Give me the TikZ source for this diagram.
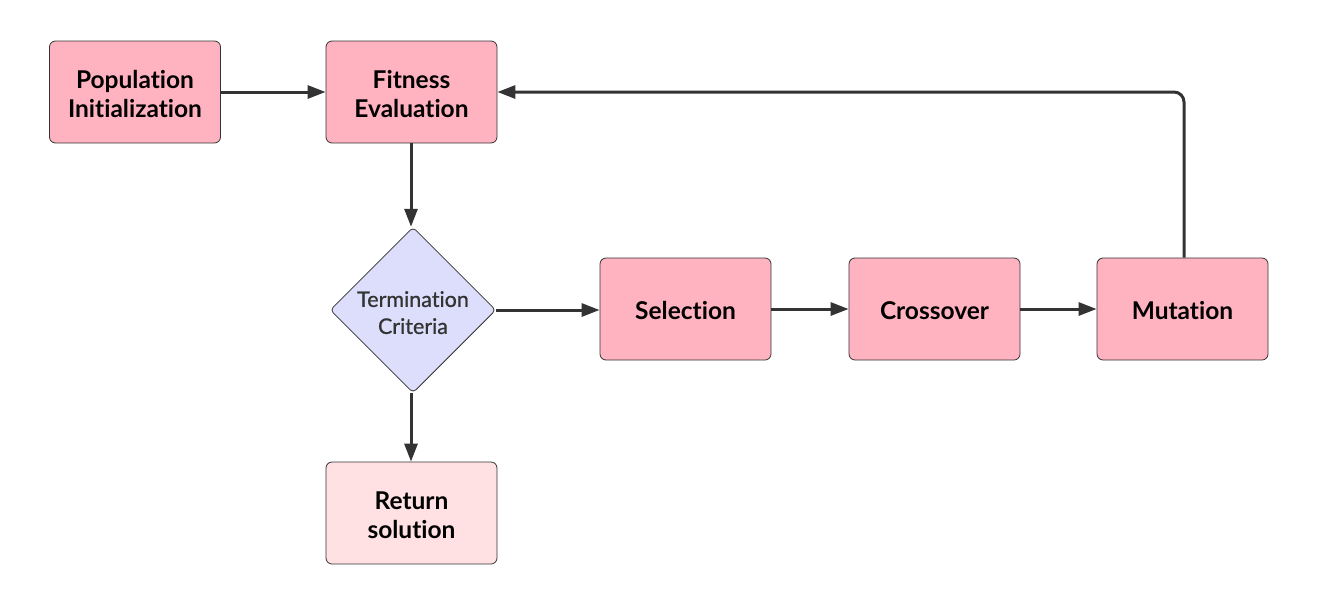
\documentclass[tikz,border=0pt]{standalone}
\usepackage{fontspec}
\setmainfont[Ligatures={NoCommon,NoRare,NoDiscretionary}]{Lato}
\newfontfamily\diafont[Ligatures={NoCommon,NoRare,NoDiscretionary},FakeBold=0.8]{Lato}
\usetikzlibrary{shapes.geometric,arrows.meta}
\definecolor{boxpink}{RGB}{255,179,192}
\definecolor{lightpink}{RGB}{255,225,228}
\definecolor{diamondblue}{RGB}{221,222,251}
\definecolor{edge}{RGB}{51,51,51}
\newcommand\lowtxt[1]{\raisebox{-5pt}[\height][\depth]{\begin{tabular}{@{}c@{}}#1\end{tabular}}}
\tikzset{
  procbox/.style={draw=edge, line width=0.8pt, fill=boxpink, rounded corners=6pt,
    minimum width=171pt, minimum height=102pt, inner sep=0pt, align=center,
    font=\fontsize{24.5}{29}\selectfont\bfseries, text=black},
  endbox/.style={procbox, fill=lightpink},
  decision/.style={diamond, draw=edge, line width=0.8pt, fill=diamondblue, rounded corners=4pt,
    minimum width=162pt, minimum height=162pt, inner sep=0pt, align=center,
    font=\diafont\fontsize{21.5}{27}\selectfont, text=edge},
  conn/.style={draw=edge, line width=3pt, -{Triangle[length=18pt,width=13pt]}, rounded corners=10pt}
}
\begin{document}
\begin{tikzpicture}[x=1pt,y=-1pt]
\useasboundingbox (0,0) rectangle (1319,606);
\node[procbox] (pop) at (135,92) {\lowtxt{Population\\Initialization}};
\node[procbox] (fit) at (411.5,92) {\lowtxt{Fitness\\Evaluation}};
\node[decision] (term) at (413,310) {\lowtxt{Termination\\Criteria}};
\node[procbox] (sel) at (685.5,309) {\lowtxt{Selection}};
\node[procbox] (cross) at (934.5,309) {\lowtxt{Crossover}};
\node[procbox] (mut) at (1182.5,309) {\lowtxt{Mutation}};
\node[endbox] (ret) at (411.5,513) {\lowtxt{Return\\solution}};
\coordinate (corner) at (1184,92);
\draw[conn] (pop.east) -- (fit.west);
\draw[conn] (fit.south -| 411,0) -- (term.north -| 411,0);
\draw[conn] (term.east) -- (term.east -| sel.west);
\draw[conn] (sel.east) -- (cross.west);
\draw[conn] (cross.east) -- (mut.west);
\draw[conn] (mut.north -| corner) -- (corner) -- (fit.east);
\draw[conn] (term.south -| 411,0) -- (ret.north -| 411,0);
\end{tikzpicture}
\end{document}
